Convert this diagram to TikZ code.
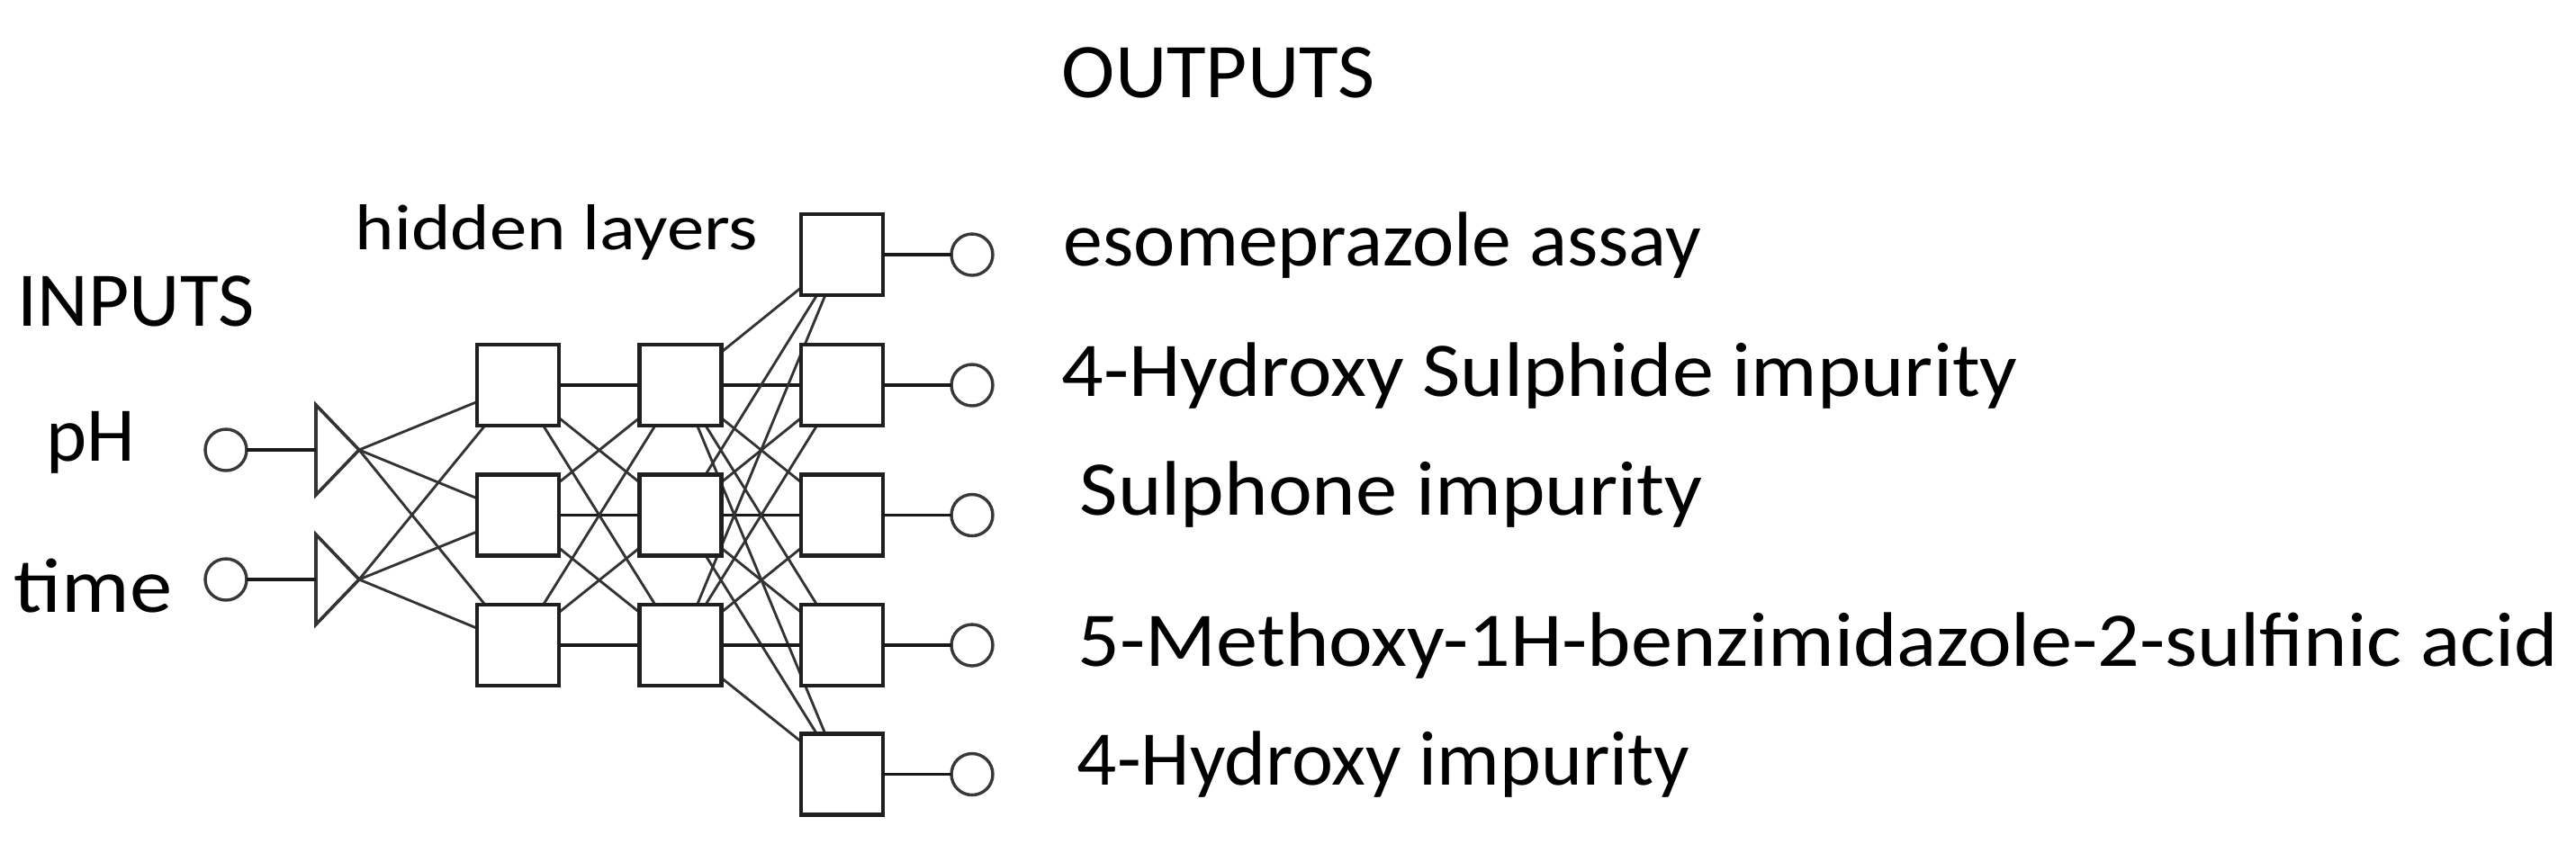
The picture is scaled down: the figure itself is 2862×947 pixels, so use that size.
\documentclass[tikz,border=0pt]{standalone}
\usepackage{fontspec}
\setmainfont{Carlito}
\usetikzlibrary{backgrounds}
\newcommand{\hs}[2]{\scalebox{#1}[1]{#2}}
\begin{document}
\begin{tikzpicture}[x=0.25pt,y=-0.25pt,
  unit/.style={draw=black!88, line width=1.05pt, fill=white, minimum width=22.75pt, minimum height=22.5pt, inner sep=0pt, outer sep=0pt},
  port/.style={circle, draw=black!78, line width=0.85pt, fill=white, minimum size=11.5pt, inner sep=0pt, outer sep=0pt},
  link/.style={draw=black!80, line width=0.72pt},
  wire/.style={draw=black!90, line width=0.95pt},
  lbl/.style={anchor=base west, inner sep=0pt, font=\fontsize{21.5}{25}\selectfont, text=black},
  tri/.style={draw=black!80, line width=0.9pt, fill=white, line join=miter}]
\useasboundingbox (0,0) rectangle (2862,947);

% hidden layers
\foreach \i/\y in {1/428,2/572.5,3/717} {
  \node[unit] (a\i) at (575.5,\y) {};
  \node[unit] (b\i) at (756,\y) {};
}
% output layer
\foreach \i/\y in {1/283,2/428,3/572.5,4/717,5/860.5} {
  \node[unit] (o\i) at (935.5,\y) {};
  \node[port] (oc\i) at (1080,\y) {};
  \draw[wire] (o\i) -- (oc\i);
}
% inputs
\foreach \i/\y in {1/500,2/644} {
  \coordinate (tb\i) at (351,\y);
  \coordinate (tp\i) at (399,\y);
  \node[port] (ic\i) at (251,\y) {};
  \draw[tri] (351,\y-50) -- (351,\y+50) -- (tp\i) -- cycle;
  \draw[wire] (ic\i) -- (tb\i);
}

\begin{pgfonlayer}{background}
  \foreach \i in {1,2} \foreach \j in {1,2,3} \draw[link] (tp\i) -- (a\j.center);
  \foreach \i in {1,2,3} \foreach \j in {1,2,3} {
    \ifnum\i=\j \draw[wire] (a\i.center) -- (b\j.center);
    \else \draw[link] (a\i.center) -- (b\j.center); \fi
  }
  \foreach \i in {1,2,3} \foreach \j in {1,...,5} {
    \pgfmathtruncatemacro{\k}{\i+1}
    \ifnum\k=\j \draw[wire] (b\i.center) -- (o\j.center);
    \else \draw[link] (b\i.center) -- (o\j.center); \fi
  }
\end{pgfonlayer}

% labels
\node[lbl] (tin) at (19,362) {\hs{1.02}{INPUTS}};
\node[lbl] (tph) at (51,512) {\hs{1.0}{pH}};
\node[lbl] (ttime) at (15,680) {\hs{1.1}{time}};
\node[lbl] (tout) at (1179,108) {\hs{1.04}{OUTPUTS}};
\node[lbl, font=\fontsize{18}{22}\selectfont] (thid) at (394,277) {\hs{1.15}{hidden layers}};
\node[lbl] (l1) at (1181,295) {\hs{1.02}{esomeprazole assay}};
\node[lbl] (l2) at (1179,440) {\hs{1.07}{4-Hydroxy Sulphide impurity}};
\node[lbl] (l3) at (1199,572) {\hs{1.075}{Sulphone impurity}};
\node[lbl] (l4) at (1197,740) {\hs{1.073}{5-Methoxy-1H-benzimidazole-2-sulfinic acid}};
\node[lbl] (l5) at (1196,872) {\hs{1.015}{4-Hydroxy impurity}};
\end{tikzpicture}
\end{document}
